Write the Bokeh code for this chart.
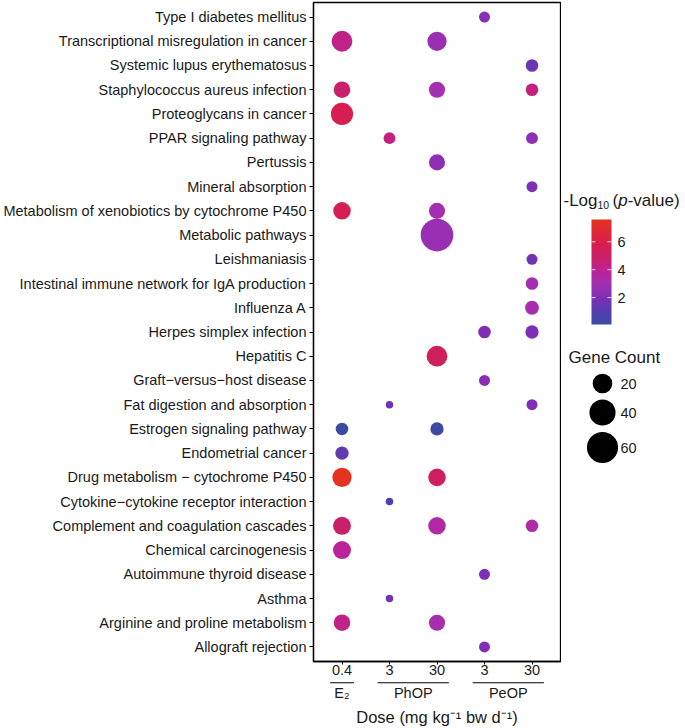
import numpy as np
from bokeh.plotting import figure
from bokeh.models import FactorRange, Range1d, ColumnDataSource, LinearColorMapper
from bokeh.layouts import row, column
from bokeh.transform import transform
from bokeh.core.properties import value
from bokeh.embed import file_html
from bokeh.resources import INLINE

FONT = "Liberation Sans"
TXT = "#1a1a1a"

# ---------------- data ----------------
pathways = [  # top to bottom
    "Type I diabetes mellitus",
    "Transcriptional misregulation in cancer",
    "Systemic lupus erythematosus",
    "Staphylococcus aureus infection",
    "Proteoglycans in cancer",
    "PPAR signaling pathway",
    "Pertussis",
    "Mineral absorption",
    "Metabolism of xenobiotics by cytochrome P450",
    "Metabolic pathways",
    "Leishmaniasis",
    "Intestinal immune network for IgA production",
    "Influenza A",
    "Herpes simplex infection",
    "Hepatitis C",
    "Graft\u2212versus\u2212host disease",
    "Fat digestion and absorption",
    "Estrogen signaling pathway",
    "Endometrial cancer",
    "Drug metabolism \u2212 cytochrome P450",
    "Cytokine\u2212cytokine receptor interaction",
    "Complement and coagulation cascades",
    "Chemical carcinogenesis",
    "Autoimmune thyroid disease",
    "Asthma",
    "Arginine and proline metabolism",
    "Allograft rejection",
]

groups = ["E\u2082", "PhOP", "PeOP"]
dose_factors = [("E\u2082", "0.4"), ("PhOP", "3"), ("PhOP", "30"), ("PeOP", "3"), ("PeOP", "30")]

pt_pathway = [
    pathways[0],
    pathways[1], pathways[1],
    pathways[2],
    pathways[3], pathways[3], pathways[3],
    pathways[4],
    pathways[5], pathways[5],
    pathways[6],
    pathways[7],
    pathways[8], pathways[8],
    pathways[9],
    pathways[10],
    pathways[11],
    pathways[12],
    pathways[13], pathways[13],
    pathways[14],
    pathways[15],
    pathways[16], pathways[16],
    pathways[17], pathways[17],
    pathways[18],
    pathways[19], pathways[19],
    pathways[20],
    pathways[21], pathways[21], pathways[21],
    pathways[22],
    pathways[23],
    pathways[24],
    pathways[25], pathways[25],
    pathways[26],
]
pt_group = [
    "PeOP",
    "E\u2082", "PhOP",
    "PeOP",
    "E\u2082", "PhOP", "PeOP",
    "E\u2082",
    "PhOP", "PeOP",
    "PhOP",
    "PeOP",
    "E\u2082", "PhOP",
    "PhOP",
    "PeOP",
    "PeOP",
    "PeOP",
    "PeOP", "PeOP",
    "PhOP",
    "PeOP",
    "PhOP", "PeOP",
    "E\u2082", "PhOP",
    "E\u2082",
    "E\u2082", "PhOP",
    "PhOP",
    "E\u2082", "PhOP", "PeOP",
    "E\u2082",
    "PeOP",
    "PhOP",
    "E\u2082", "PhOP",
    "PeOP",
]
pt_dose = [
    "3",
    "0.4", "30",
    "30",
    "0.4", "30", "30",
    "0.4",
    "3", "30",
    "30",
    "30",
    "0.4", "30",
    "30",
    "30",
    "30",
    "30",
    "3", "30",
    "30",
    "3",
    "3", "30",
    "0.4", "30",
    "0.4",
    "0.4", "30",
    "3",
    "0.4", "30", "30",
    "0.4",
    "3",
    "3",
    "0.4", "30",
    "3",
]
pt_count = [
    4,
    23, 19,
    6,
    13, 12, 6,
    27,
    5, 5,
    12,
    4,
    15, 12,
    67,
    4,
    6,
    8,
    6, 7,
    23,
    4,
    1, 4,
    6, 7,
    7,
    19, 15,
    1,
    16, 15, 6,
    16,
    4,
    1,
    13, 12,
    4,
]
pt_logp = [
    2.3,
    4.2, 2.7,
    1.5,
    4.8, 3.0, 4.4,
    5.8,
    4.4, 2.4,
    2.4,
    1.9,
    5.7, 3.0,
    2.7,
    1.6,
    3.0,
    3.1,
    2.0, 2.0,
    5.3,
    2.2,
    1.6, 2.0,
    0.07, 0.25,
    1.2,
    7.6, 5.2,
    0.7,
    4.8, 3.5, 3.4,
    3.9,
    1.9,
    1.7,
    4.2, 3.1,
    2.2,
]

legend_counts = [20, 40, 60]
colorbar_ticks = [2, 4, 6]
x_title = "Dose (mg kg\u207b\u00b9 bw d\u207b\u00b9)"

# ---------------- scales ----------------
def dot_size(n):
    return 4.0 + 3.5 * np.sqrt(np.asarray(n, dtype=float))

def hex2rgb(h):
    h = h.lstrip("#")
    return np.array([int(h[i:i + 2], 16) for i in (0, 2, 4)], dtype=float)

stops = [(0.0, "#3A4CA2"), (0.1, "#5040AE"), (0.25, "#7D2FB6"), (0.39, "#A42FB0"),
         (0.5, "#BA249C"), (0.62, "#C8206C"), (0.76, "#D71E50"), (1.0, "#E5331F")]
palette = []
for t in np.linspace(0, 1, 256):
    for (f0, c0), (f1, c1) in zip(stops[:-1], stops[1:]):
        if f0 <= t <= f1:
            w = (t - f0) / (f1 - f0)
            c = (1 - w) * hex2rgb(c0) + w * hex2rgb(c1)
            palette.append("#%02x%02x%02x" % tuple(int(round(v)) for v in c))
            break

vmin, vmax = min(pt_logp), max(pt_logp)
mapper = LinearColorMapper(palette=palette, low=vmin, high=vmax)

src = ColumnDataSource(dict(
    x=list(zip(pt_group, pt_dose)),
    y=pt_pathway,
    count=pt_count,
    logp=pt_logp,
    size=dot_size(pt_count),
))

# ---------------- main plot ----------------
W_MAIN = 561
x_range = FactorRange(*dose_factors, group_padding=0, factor_padding=0,
                      range_padding=0.1, range_padding_units="absolute")
p = figure(
    width=W_MAIN, height=681,
    x_range=x_range,
    y_range=FactorRange(factors=pathways[::-1], range_padding=0.1,
                        range_padding_units="absolute"),
    output_backend="svg", toolbar_location=None,
    min_border_left=313, min_border_right=1, min_border_top=2, min_border_bottom=20,
)
p.scatter(x="x", y="y", size="size", source=src, line_color=None,
          fill_color=transform("logp", mapper), fill_alpha=1)

p.xgrid.grid_line_color = None
p.ygrid.grid_line_color = None
p.outline_line_color = "black"
p.outline_line_width = 1.3
p.outline_line_alpha = 1

for ax in (p.xaxis, p.yaxis):
    ax.axis_line_color = "black"
    ax.axis_line_width = 1.3
    ax.major_tick_line_color = "black"
    ax.major_tick_in = 0
    ax.minor_tick_line_color = None
    ax.major_label_text_font = FONT
    ax.major_label_text_font_size = "14.5px"
    ax.major_label_text_color = TXT
p.yaxis.major_tick_out = 4
p.yaxis.major_label_standoff = 3
p.xaxis.major_tick_out = 3
p.xaxis.major_label_standoff = 0
p.xaxis.separator_line_alpha = 0
# group names are drawn in the strip below, under the group rules
p.xaxis.group_text_font_size = "0px"
p.xaxis.group_text_alpha = 0

# ---------------- strip under the x axis: group rules, group names, title ----------------
H_STRIP = 47
s = figure(width=W_MAIN, height=H_STRIP, x_range=x_range, y_range=Range1d(H_STRIP, 0),
           output_backend="svg", toolbar_location=None,
           min_border_left=313, min_border_right=1, min_border_top=0, min_border_bottom=0,
           x_axis_location=None, y_axis_location=None)
s.grid.visible = False
s.outline_line_color = None
g_left, g_right = [], []
for g in groups:
    idx = [i for i, (gg, _) in enumerate(dose_factors) if gg == g]
    g_left.append(min(idx) + 0.25)
    g_right.append(max(idx) + 0.75)
s.segment(x0=g_left, x1=g_right, y0=[1.2] * 3, y1=[1.2] * 3, line_color="black", line_width=1.1)
s.text(x=groups, y=[11.5] * 3, text=groups, text_font=value(FONT), text_font_size="14.5px",
       text_color=TXT, text_align="center", text_baseline="middle")
s.text(x=[len(dose_factors) / 2], y=[35.5], text=[x_title], text_font=value(FONT),
       text_font_size="16.5px", text_color=TXT, text_align="center", text_baseline="middle")

# ---------------- legends ----------------
LW = 122
H = 728
q = figure(width=LW, height=H, x_range=Range1d(0, LW), y_range=Range1d(0, H),
           output_backend="svg", toolbar_location=None, min_border=0,
           x_axis_location=None, y_axis_location=None)
q.grid.visible = False
q.outline_line_color = None

# colour bar
cb_x, cb_w, cb_y, cb_h = 30, 20, 404, 105
grad = np.linspace(vmin, vmax, 256).reshape(-1, 1)
q.image(image=[grad], x=cb_x, y=cb_y, dw=cb_w, dh=cb_h, color_mapper=mapper)
tick_y = [cb_y + (t - vmin) / (vmax - vmin) * cb_h for t in colorbar_ticks]
q.segment(x0=[cb_x] * 3, x1=[cb_x + 4] * 3, y0=tick_y, y1=tick_y, line_color="white", line_width=1, line_alpha=0.8)
q.segment(x0=[cb_x + cb_w - 4] * 3, x1=[cb_x + cb_w] * 3, y0=tick_y, y1=tick_y, line_color="white", line_width=1, line_alpha=0.8)
q.text(x=[cb_x + cb_w + 6] * 3, y=tick_y, text=[str(t) for t in colorbar_ticks],
       text_font=value(FONT), text_font_size="14.5px", text_color=TXT,
       text_baseline="middle", text_align="left")

# colour bar title: -Log10 (p-value)
tx, ty = 2, 528
q.text(x=[tx], y=[ty], text=["-Log"], text_font=value(FONT), text_font_size="17px",
       text_color=TXT, text_baseline="middle")
q.text(x=[tx + 34], y=[ty - 4], text=["10"], text_font=value(FONT), text_font_size="10.5px",
       text_color=TXT, text_baseline="middle")
q.text(x=[tx + 49], y=[ty], text=["("], text_font=value(FONT), text_font_size="17px",
       text_color=TXT, text_baseline="middle")
q.text(x=[tx + 54.7], y=[ty], text=["p"], text_font=value(FONT), text_font_size="17px",
       text_font_style="italic", text_color=TXT, text_baseline="middle")
q.text(x=[tx + 64.2], y=[ty], text=["-value)"], text_font=value(FONT), text_font_size="17px",
       text_color=TXT, text_baseline="middle")

# size legend
q.text(x=[7], y=[371], text=["Gene Count"], text_font=value(FONT), text_font_size="17px",
       text_color=TXT, text_baseline="middle")
leg_y = [345, 316, 281]
q.scatter(x=[41] * 3, y=leg_y, size=dot_size(legend_counts), fill_color="black", line_color=None)
q.text(x=[59] * 3, y=leg_y, text=[str(c) for c in legend_counts], text_font=value(FONT),
       text_font_size="14.5px", text_color=TXT, text_baseline="middle")

layout = row(column(p, s), q)
open("out.html", "w").write(file_html(layout, INLINE))
